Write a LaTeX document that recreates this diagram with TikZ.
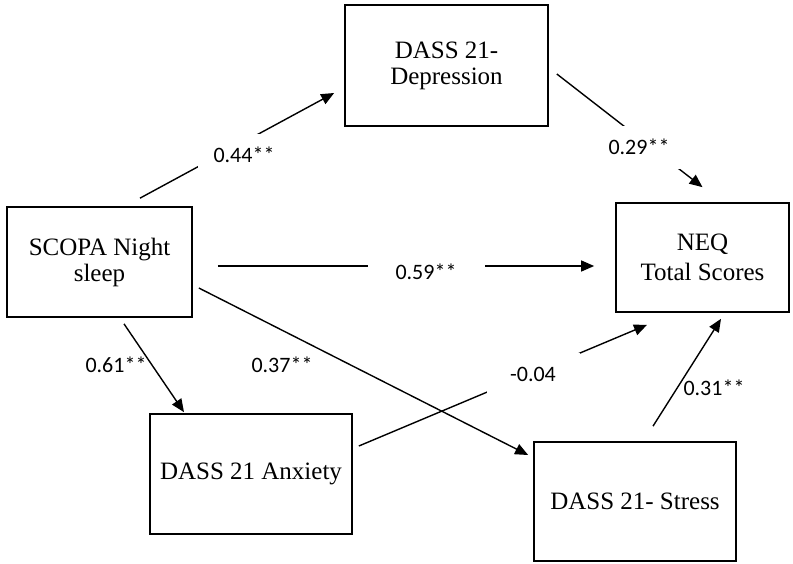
\documentclass[tikz,border=0pt]{standalone}
\usepackage{fontspec}
\setmainfont{Liberation Serif}
\newfontfamily\calibri{Carlito}
\usetikzlibrary{positioning,arrows.meta}

\begin{document}
\begin{tikzpicture}[x=1pt, y=-1pt,
    box/.style={draw, line width=1.7pt, align=center, inner sep=0pt, font=\fontsize{25}{26}\selectfont},
    link/.style={line width=1.4pt, -{Triangle[length=13pt,width=11pt]}},
    coef/.style={font=\calibri\fontsize{22}{24}\selectfont, inner sep=0pt},
    gap/.style={coef, fill=white, minimum width=93pt, minimum height=43pt}]
    \useasboundingbox (0,0) rectangle (793,563);
    % variables
    \node (dep)    [box, minimum width=203pt, minimum height=121pt] at (446.5,65.5) {DASS 21-\\Depression};
    \node (scopa)  [box, minimum width=185pt, minimum height=110pt] at (99.5,262) {SCOPA Night\\sleep};
    \node (neq)    [box, minimum width=173pt, minimum height=109pt, font=\fontsize{25}{30}\selectfont] at (702.5,257.5) {NEQ\\Total Scores};
    \node (anx)    [box, minimum width=202pt, minimum height=120pt] at (251,474) {DASS 21 Anxiety};
    \node (stress) [box, minimum width=202pt, minimum height=119pt] at (635,501.5) {DASS 21- Stress};
    % paths
    \draw[link] ([shift={(40.5,-8)}]scopa.north) -- ([shift={(-10,27.5)}]dep.west);
    \draw[link] ([shift={(8,8.5)}]dep.east) -- ([shift={(0,-15)}]neq.north);
    \draw[link] ([shift={(25,4)}]scopa.east) -- ([shift={(-21,8.5)}]neq.west);
    \draw[link] ([shift={(24.5,6)}]scopa.south) -- ([shift={(-67,-1)}]anx.north);
    \draw[link] ([shift={(6,26)}]scopa.east) -- ([shift={(-5,-46.5)}]stress.west);
    \draw[link] ([shift={(6,-28)}]anx.east) -- ([shift={(-55.5,12)}]neq.south);
    \draw[link] ([shift={(18,-15)}]stress.north) -- ([shift={(18.5,6)}]neq.south);
    % coefficients
    \node (l44) [gap] at (244,155) {0.44**};
    \node (l29) [gap] at (639,147) {0.29**};
    \node (l59) [gap, minimum width=117pt] at (426,272) {0.59**};
    \node (l04) [gap] at (533,374) {-0.04};
    \node (l61) [coef] at (116,365) {0.61**};
    \node (l37) [coef] at (282,365) {0.37**};
    \node (l31) [coef] at (714,388) {0.31**};
\end{tikzpicture}
\end{document}
